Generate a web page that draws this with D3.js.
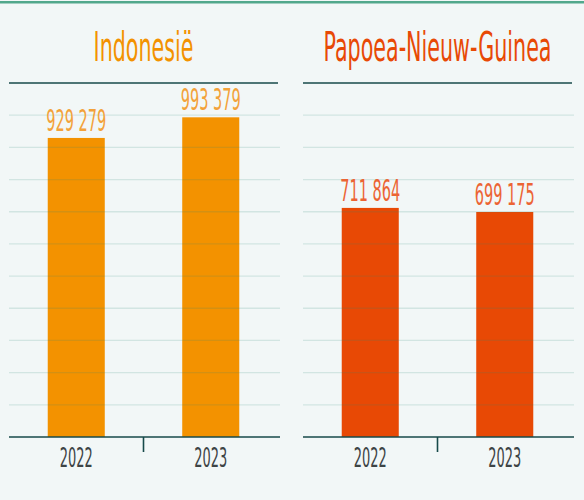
<!DOCTYPE html>
<html>
<head>
<meta charset="utf-8">
<script src="https://cdn.jsdelivr.net/npm/d3@7"></script>
<style>
  html, body { margin: 0; padding: 0; background: #f2f7f7; }
  svg { display: block; }
</style>
</head>
<body>
<div id="chart"></div>
<script>
// Production figures per country and year
const countries = ["Indonesië", "Papoea-Nieuw-Guinea"];
const years = ["2022", "2023"];
const indonesia = [929279, 993379];
const papua = [711864, 699175];
const seriesValues = [indonesia, papua];
const gridTicks = [100000, 200000, 300000, 400000, 500000, 600000, 700000, 800000, 900000, 1000000];
const yMax = 1100000;
const colors = ["#f39200", "#e84905"];
const labelColors = ["#f3a23a", "#ec6434"];

const W = 584, H = 500;
const FONT = "'DejaVu Sans Condensed', 'Liberation Sans Narrow', sans-serif";

const fmt = v => d3.format(",")(v).replace(/,/g, " ");

const svg = d3.select("#chart").append("svg")
  .attr("width", W).attr("height", H);

svg.append("rect").attr("width", W).attr("height", H).attr("fill", "#f2f7f7");
svg.append("rect").attr("x", 0).attr("y", 1).attr("width", W).attr("height", 2.5).attr("fill", "#52a88c");

const y = d3.scaleLinear().domain([0, yMax]).range([437, 83]);

const panels = [
  { x0: 9, x1: 278 },
  { x0: 303, x1: 572 }
];

// Condensed text: drawn in a narrow face, squeezed horizontally by sx
function squeezedText(g, x, yy, txt, size, color, sx) {
  return g.append("text")
    .attr("transform", `translate(${x},${yy}) scale(${sx},1)`)
    .attr("text-anchor", "middle")
    .attr("font-family", FONT)
    .attr("font-size", size)
    .attr("fill", color)
    .text(txt);
}

// squeeze factor that brings a sample string to a given width
function fitScale(txt, size, width) {
  const t = svg.append("text").attr("font-family", FONT).attr("font-size", size).text(txt);
  const w = t.node().getComputedTextLength();
  t.remove();
  return w ? width / w : 0.565;
}
const titleSX = fitScale(countries[1], 41, 228);
const valueSX = fitScale(fmt(indonesia[0]), 30, 60);
const yearSX = fitScale(years[0], 26, 33);

panels.forEach((p, i) => {
  const g = svg.append("g");
  const x = d3.scaleBand().domain(years).range([p.x0, p.x1])
    .paddingInner(0.576).paddingOuter(0.288);
  const data = years.map((yr, j) => ({ year: yr, value: seriesValues[i][j] }));
  const cx = (p.x0 + p.x1) / 2;

  // title
  squeezedText(g, cx, 61, countries[i], 41, colors[i], titleSX);

  // bars
  g.selectAll("rect.bar").data(data).enter().append("rect")
    .attr("class", "bar")
    .attr("x", d => x(d.year))
    .attr("width", x.bandwidth())
    .attr("y", d => y(d.value))
    .attr("height", d => y(0) - y(d.value))
    .attr("fill", colors[i]);

  // gridlines drawn over the bars
  g.selectAll("line.grid").data(gridTicks).enter().append("line")
    .attr("class", "grid")
    .attr("x1", p.x0).attr("x2", p.x1 + 2)
    .attr("y1", d => y(d)).attr("y2", d => y(d))
    .attr("stroke", "#2a8a78").attr("stroke-opacity", 0.16).attr("stroke-width", 1.3);

  // top rule
  g.append("line")
    .attr("x1", p.x0).attr("x2", p.x1)
    .attr("y1", y(yMax)).attr("y2", y(yMax))
    .attr("stroke", "#174a4a").attr("stroke-width", 1.6);

  // value labels
  data.forEach(d => {
    squeezedText(g, x(d.year) + x.bandwidth() / 2, y(d.value) - 7, fmt(d.value), 30, labelColors[i], valueSX);
  });

  // bottom axis
  const axis = d3.axisBottom(x).tickSize(0).tickPadding(0);
  const ax = g.append("g").attr("transform", `translate(0,${y(0)})`).call(axis);
  ax.select(".domain").remove();
  ax.selectAll(".tick text").remove();
  ax.append("line")
    .attr("x1", p.x0).attr("x2", p.x1 + 2)
    .attr("y1", 0).attr("y2", 0)
    .attr("stroke", "#174a4a").attr("stroke-width", 1.6);
  // separator tick between the two bands
  const mid = (x(years[0]) + x.bandwidth() + x(years[1])) / 2;
  ax.append("line")
    .attr("x1", mid).attr("x2", mid)
    .attr("y1", 0).attr("y2", 15)
    .attr("stroke", "#174a4a").attr("stroke-width", 1.6);
  years.forEach(yr => {
    squeezedText(g, x(yr) + x.bandwidth() / 2, y(0) + 30, yr, 26, "#3d4446", yearSX);
  });
});
</script>
</body>
</html>
